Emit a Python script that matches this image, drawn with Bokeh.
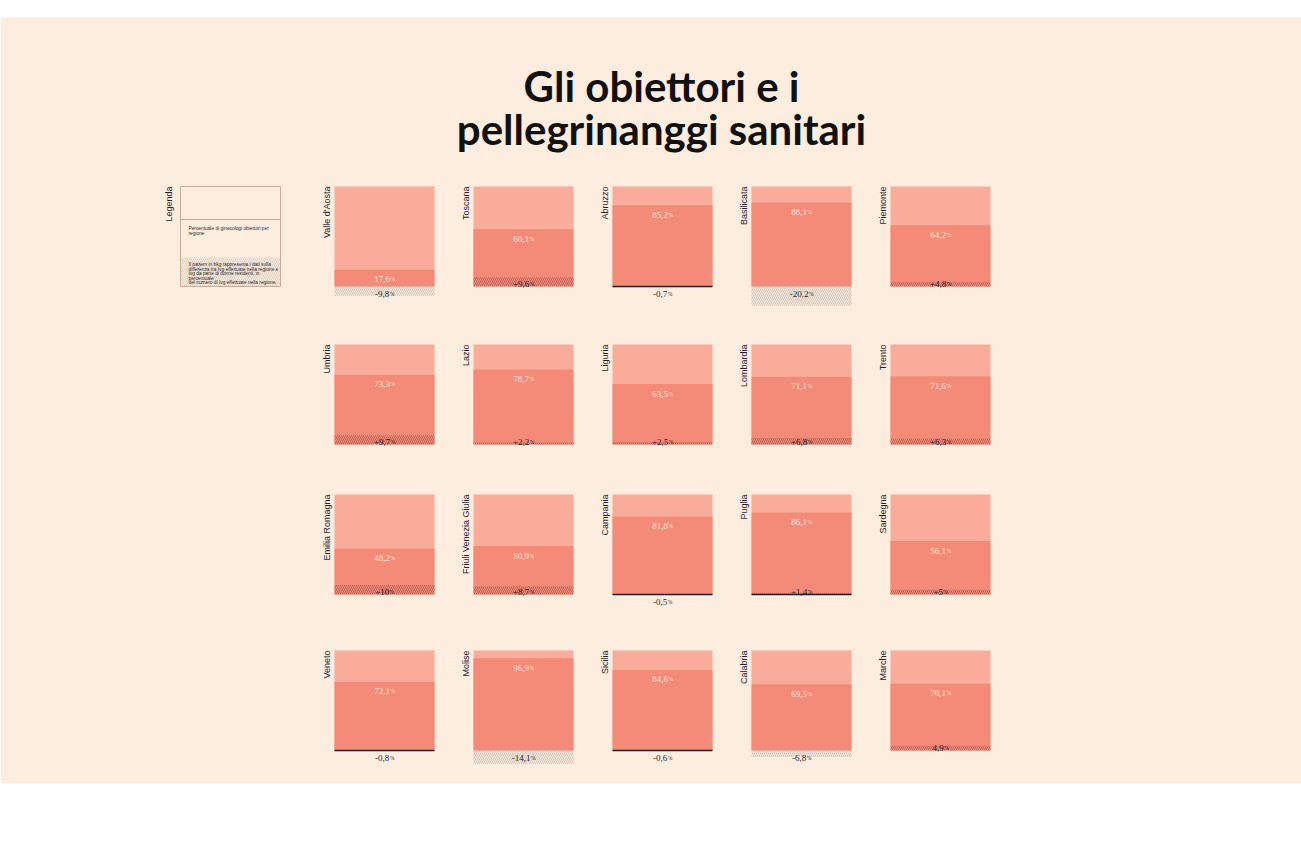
import math
from bokeh.plotting import figure
from bokeh.models import Range1d
from bokeh.core.properties import value
from bokeh.embed import file_html
from bokeh.resources import INLINE

# ---------------- data ----------------
regions = ["Valle d'Aosta", "Toscana", "Abruzzo", "Basilicata", "Piemonte",
           "Umbria", "Lazio", "Liguria", "Lombardia", "Trento",
           "Emilia Romagna", "Friuli Venezia Giulia", "Campania", "Puglia", "Sardegna",
           "Veneto", "Molise", "Sicilia", "Calabria", "Marche"]
obiettori = [17.6, 60.1, 85.2, 88.1, 64.2,
             73.3, 78.7, 63.5, 71.1, 71.6,
             48.2, 50.9, 81.8, 86.1, 56.1,
             72.1, 96.9, 84.6, 69.5, 70.1]
obiettori_labels = ["17,6", "60,1", "85,2", "88,1", "64,2",
                    "73,3", "78,7", "63,5", "71,1", "71,6",
                    "48,2", "50,9", "81,8", "86,1", "56,1",
                    "72,1", "96,9", "84,6", "69,5", "70,1"]
saldo_ivg = [-9.8, 9.6, -0.7, -20.2, 4.8,
             9.7, 2.2, 2.5, 6.8, 6.3,
             10.0, 8.7, -0.5, 1.4, 5.0,
             -0.8, -14.1, -0.6, -6.8, 4.9]
saldo_labels = ["-9,8", "+9,6", "-0,7", "-20.2", "+4,8",
                "+9,7", "+2,2", "+2,5", "+6,8", "+6,3",
                "+10", "+8,7", "-0,5", "+1,4", "+5",
                "-0,8", "-14,1", "-0,6", "-6,8", "4,9"]
title_lines = ["Gli obiettori e i", "pellegrinanggi sanitari"]
legend_title = "Legenda"
legend_text_top = ["Percentuale di ginecologi obiettori per", "regione"]
legend_text_bottom = ["Il pattern in bkg rappresenta i dati sulla",
                      "differenza tra Ivg effettuate nella regione e",
                      "Ivg da parte di donne residenti, in",
                      "percentuale",
                      "del numero di Ivg effettuate nella regione."]

# ---------------- layout / style ----------------
W, H = 1301, 868
BG = "#fdeddf"
LIGHT = "#f9ac99"
DARK = "#f48b79"
INK = "#1f1f33"
NCOLS = 5
COL0, COLSTEP = 334, 139
ROW_TOPS = [186, 344, 494, 650]
BOX = 100
K = BOX / 105.0          # px per percentage point

SERIF = "Liberation Serif"
SANS = "Liberation Sans"


def serif_w(s, size):
    w = {'+': 0.564, '-': 0.333, ',': 0.25, '.': 0.25}
    return sum(w.get(c, 0.5) for c in s) * size


p = figure(width=W, height=H, x_range=Range1d(0, W), y_range=Range1d(H, 0),
           output_backend="svg", toolbar_location=None, min_border=0,
           background_fill_color="white", border_fill_color="white")
p.axis.visible = False
p.grid.visible = False
p.outline_line_color = None

# page band
p.quad(left=[0], right=[W], top=[17], bottom=[783], fill_color=BG, line_color=None)

# panel geometry
lefts, rights, tops, bottoms = [], [], [], []
for i in range(len(regions)):
    r, c = divmod(i, NCOLS)
    l = COL0 + c * COLSTEP
    t = ROW_TOPS[r]
    lefts.append(l); rights.append(l + BOX); tops.append(t); bottoms.append(t + BOX)
centers = [(a + b) / 2 for a, b in zip(lefts, rights)]

# light full box
p.quad(left=lefts, right=rights, top=tops, bottom=bottoms, fill_color=LIGHT, line_color=None)
# obiettori bar
dark_tops = [b - v * K for b, v in zip(bottoms, obiettori)]
p.quad(left=lefts, right=rights, top=dark_tops, bottom=bottoms, fill_color=DARK, line_color=None)

# saldo (hatched)
pos = [i for i, v in enumerate(saldo_ivg) if v > 0]
neg = [i for i, v in enumerate(saldo_ivg) if v < 0]
p.quad(left=[lefts[i] for i in pos], right=[rights[i] for i in pos],
       top=[bottoms[i] - saldo_ivg[i] * K for i in pos], bottom=[bottoms[i] for i in pos],
       fill_color=None, line_color=None, hatch_pattern="\\", hatch_color="#9b4a40",
       hatch_alpha=0.75, hatch_scale=4, hatch_weight=0.8)
p.quad(left=[lefts[i] for i in neg], right=[rights[i] for i in neg],
       top=[bottoms[i] for i in neg], bottom=[bottoms[i] - saldo_ivg[i] * K for i in neg],
       fill_color=None, line_color=None, hatch_pattern="\\", hatch_color="#a9a39c",
       hatch_alpha=0.8, hatch_scale=4, hatch_weight=0.7)
small = [i for i, v in enumerate(saldo_ivg) if abs(v) < 2]
p.segment(x0=[lefts[i] for i in small], x1=[rights[i] for i in small],
          y0=[bottoms[i] for i in small], y1=[bottoms[i] for i in small],
          line_color=INK, line_width=1.5)

# region names (rotated)
p.text(x=[l - 3 for l in lefts], y=tops, text=regions, angle=math.pi / 2,
       text_font=value(SANS), text_font_size="9px", text_color=INK,
       text_align="right", text_baseline="bottom")

# percentage labels: number + small %
NUM_FS, PCT_FS = 9.0, 5.5
pct_w = 0.833 * PCT_FS


def label_positions(labels):
    xs_num, xs_pct = [], []
    for cx, s in zip(centers, labels):
        wn = serif_w(s, NUM_FS)
        x0 = cx - (wn + pct_w) / 2
        xs_num.append(x0)
        xs_pct.append(x0 + wn + 0.3)
    return xs_num, xs_pct


xn, xp = label_positions(obiettori_labels)
py = [t + 9.5 for t in dark_tops]
p.text(x=xn, y=py, text=obiettori_labels, text_font=value(SERIF), text_font_size=f"{NUM_FS}px",
       text_color="#fde3d8", text_align="left", text_baseline="alphabetic")
p.text(x=xp, y=py, text=["%"] * len(py), text_font=value(SERIF), text_font_size=f"{PCT_FS}px",
       text_color="#fde3d8", text_align="left", text_baseline="alphabetic")

xn, xp = label_positions(saldo_labels)
sy = [b - 2.8 if v > 0 else b + 7.5 for b, v in zip(bottoms, saldo_ivg)]
p.text(x=xn, y=sy, text=saldo_labels, text_font=value(SERIF), text_font_size=f"{NUM_FS}px",
       text_color=INK, text_align="left", text_baseline="alphabetic")
p.text(x=xp, y=sy, text=["%"] * len(sy), text_font=value(SERIF), text_font_size=f"{PCT_FS}px",
       text_color=INK, text_align="left", text_baseline="alphabetic")

# ---------------- legend ----------------
LL, LR, LT, LB = 180, 280, 186, 286
LDIV, LHATCH = 219, 257
p.quad(left=[LL], right=[LR], top=[LHATCH], bottom=[LB], fill_color=None, line_color=None,
       hatch_pattern="\\", hatch_color="#b9b0a8", hatch_alpha=0.8, hatch_scale=4, hatch_weight=0.6)
p.quad(left=[LL], right=[LR], top=[LT], bottom=[LB], fill_color=None,
       line_color="#c8ab9f", line_width=1)
p.segment(x0=[LL], x1=[LR], y0=[LDIV], y1=[LDIV], line_color="#c8ab9f", line_width=1)
p.text(x=[LL - 7], y=[LT], text=[legend_title], angle=math.pi / 2, text_font=value(SANS),
       text_font_size="9px", text_color=INK, text_align="right", text_baseline="bottom")
p.text(x=[LL + 8] * len(legend_text_top), y=[LDIV + 9 + 5 * i for i in range(len(legend_text_top))],
       text=legend_text_top, text_font=value(SANS), text_font_size="4.8px", text_color="#2e2626",
       text_align="left", text_baseline="alphabetic")
p.text(x=[LL + 8] * len(legend_text_bottom),
       y=[LHATCH + 7 + 4.6 * i for i in range(len(legend_text_bottom))],
       text=legend_text_bottom, text_font=value(SANS), text_font_size="4.8px", text_color="#2e2626",
       text_align="left", text_baseline="alphabetic")

# ---------------- title ----------------
p.text(x=[661, 661], y=[85, 128], text=title_lines, text_font=value("Lato"),
       text_font_size="42px", text_font_style="bold", text_color="#111111",
       text_align="center", text_baseline="alphabetic")

open("out.html", "w").write(file_html(p, INLINE))
